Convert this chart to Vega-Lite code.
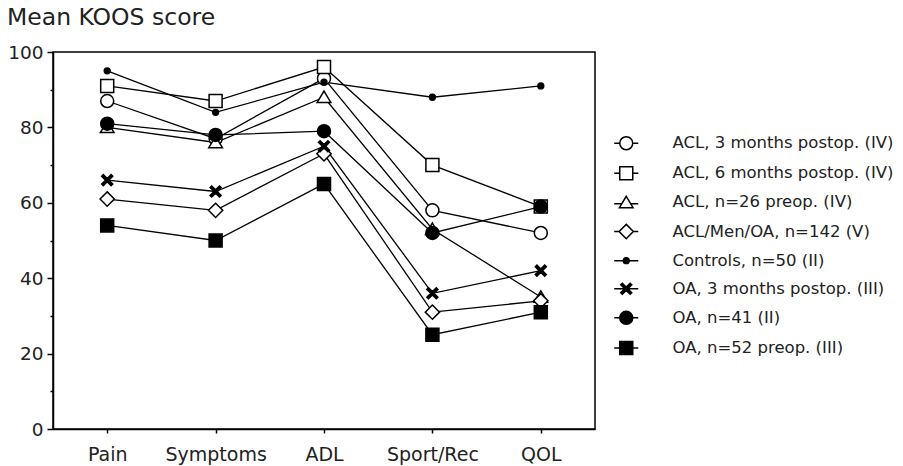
{
  "$schema": "https://vega.github.io/schema/vega-lite/v6.json",
  "width": 542,
  "height": 377,
  "autosize": "none",
  "padding": {"left": 53, "top": 52, "right": 308, "bottom": 37},
  "background": "white",
  "title": {
    "text": "Mean KOOS score",
    "anchor": "start",
    "frame": "group",
    "orient": "top",
    "baseline": "alphabetic",
    "offset": -5,
    "dx": -46,
    "font": "DejaVu Sans",
    "fontSize": 23.5,
    "fontWeight": "normal",
    "color": "#222222"
  },
  "config": {
    "font": "DejaVu Sans",
    "view": {"stroke": "black", "strokeWidth": 1.5}
  },
  "data": {
    "values": [
      {"series": "ACL, 3 months postop. (IV)", "subscale": "Pain", "score": 87},
      {"series": "ACL, 3 months postop. (IV)", "subscale": "Symptoms", "score": 77},
      {"series": "ACL, 3 months postop. (IV)", "subscale": "ADL", "score": 93},
      {"series": "ACL, 3 months postop. (IV)", "subscale": "Sport/Rec", "score": 58},
      {"series": "ACL, 3 months postop. (IV)", "subscale": "QOL", "score": 52},
      {"series": "ACL, 6 months postop. (IV)", "subscale": "Pain", "score": 91},
      {"series": "ACL, 6 months postop. (IV)", "subscale": "Symptoms", "score": 87},
      {"series": "ACL, 6 months postop. (IV)", "subscale": "ADL", "score": 96},
      {"series": "ACL, 6 months postop. (IV)", "subscale": "Sport/Rec", "score": 70},
      {"series": "ACL, 6 months postop. (IV)", "subscale": "QOL", "score": 59},
      {"series": "ACL, n=26 preop. (IV)", "subscale": "Pain", "score": 80},
      {"series": "ACL, n=26 preop. (IV)", "subscale": "Symptoms", "score": 76},
      {"series": "ACL, n=26 preop. (IV)", "subscale": "ADL", "score": 88},
      {"series": "ACL, n=26 preop. (IV)", "subscale": "Sport/Rec", "score": 53},
      {"series": "ACL, n=26 preop. (IV)", "subscale": "QOL", "score": 35},
      {"series": "ACL/Men/OA, n=142 (V)", "subscale": "Pain", "score": 61},
      {"series": "ACL/Men/OA, n=142 (V)", "subscale": "Symptoms", "score": 58},
      {"series": "ACL/Men/OA, n=142 (V)", "subscale": "ADL", "score": 73},
      {"series": "ACL/Men/OA, n=142 (V)", "subscale": "Sport/Rec", "score": 31},
      {"series": "ACL/Men/OA, n=142 (V)", "subscale": "QOL", "score": 34},
      {"series": "Controls, n=50 (II)", "subscale": "Pain", "score": 95},
      {"series": "Controls, n=50 (II)", "subscale": "Symptoms", "score": 84},
      {"series": "Controls, n=50 (II)", "subscale": "ADL", "score": 92},
      {"series": "Controls, n=50 (II)", "subscale": "Sport/Rec", "score": 88},
      {"series": "Controls, n=50 (II)", "subscale": "QOL", "score": 91},
      {"series": "OA, 3 months postop. (III)", "subscale": "Pain", "score": 66},
      {"series": "OA, 3 months postop. (III)", "subscale": "Symptoms", "score": 63},
      {"series": "OA, 3 months postop. (III)", "subscale": "ADL", "score": 75},
      {"series": "OA, 3 months postop. (III)", "subscale": "Sport/Rec", "score": 36},
      {"series": "OA, 3 months postop. (III)", "subscale": "QOL", "score": 42},
      {"series": "OA, n=41 (II)", "subscale": "Pain", "score": 81},
      {"series": "OA, n=41 (II)", "subscale": "Symptoms", "score": 78},
      {"series": "OA, n=41 (II)", "subscale": "ADL", "score": 79},
      {"series": "OA, n=41 (II)", "subscale": "Sport/Rec", "score": 52},
      {"series": "OA, n=41 (II)", "subscale": "QOL", "score": 59},
      {"series": "OA, n=52 preop. (III)", "subscale": "Pain", "score": 54},
      {"series": "OA, n=52 preop. (III)", "subscale": "Symptoms", "score": 50},
      {"series": "OA, n=52 preop. (III)", "subscale": "ADL", "score": 65},
      {"series": "OA, n=52 preop. (III)", "subscale": "Sport/Rec", "score": 25},
      {"series": "OA, n=52 preop. (III)", "subscale": "QOL", "score": 31}
    ]
  },
  "encoding": {
    "x": {
      "field": "subscale",
      "type": "nominal",
      "sort": ["Pain", "Symptoms", "ADL", "Sport/Rec", "QOL"],
      "scale": {"type": "point", "padding": 0.5},
      "axis": {
        "title": null,
        "labelAngle": 0,
        "labelFontSize": 19,
        "labelColor": "#222222",
        "labelPadding": 12,
        "tickSize": 4,
        "tickColor": "black",
        "tickWidth": 1.5,
        "domainColor": "black",
        "domainWidth": 1.5,
        "grid": false
      }
    },
    "y": {
      "field": "score",
      "type": "quantitative",
      "scale": {"domain": [0, 100], "nice": false},
      "axis": {
        "title": null,
        "grid": false,
        "values": [0, 10, 20, 30, 40, 50, 60, 70, 80, 90, 100],
        "labelExpr": "datum.value % 20 === 0 ? datum.label : ''",
        "labelFontSize": 18.5,
        "labelColor": "#222222",
        "labelPadding": 4,
        "tickSize": {"condition": {"test": "datum.value % 20 !== 0", "value": 3}, "value": 6},
        "tickColor": "black",
        "tickWidth": 1.5,
        "domainColor": "black",
        "domainWidth": 1.5
      }
    }
  },
  "layer": [
    {
      "mark": {"type": "line", "color": "black", "strokeWidth": 1.3},
      "encoding": {"detail": {"field": "series", "type": "nominal"}}
    },
    {
      "mark": {"type": "point", "filled": true, "size": 169, "stroke": "black", "strokeWidth": 1.5, "opacity": 1},
      "encoding": {
        "shape": {
          "condition": [
            {"test": "datum.series === 'ACL, 3 months postop. (IV)'", "value": "M-1,0A1,1,0,1,0,1,0A1,1,0,1,0,-1,0Z"},
            {"test": "datum.series === 'ACL, 6 months postop. (IV)'", "value": "M-1,-1H1V1H-1Z"},
            {"test": "datum.series === 'ACL, n=26 preop. (IV)'", "value": "M0,-0.95L1.05,0.8H-1.05Z"},
            {"test": "datum.series === 'ACL/Men/OA, n=142 (V)'", "value": "M0,-1.1L1.1,0L0,1.1L-1.1,0Z"},
            {"test": "datum.series === 'Controls, n=50 (II)'", "value": "M-0.45,0A0.45,0.45,0,1,0,0.45,0A0.45,0.45,0,1,0,-0.45,0Z"},
            {"test": "datum.series === 'OA, 3 months postop. (III)'", "value": "M-0.85,-0.6L-0.6,-0.85L0,-0.25L0.6,-0.85L0.85,-0.6L0.25,0L0.85,0.6L0.6,0.85L0,0.25L-0.6,0.85L-0.85,0.6L-0.25,0Z"},
            {"test": "datum.series === 'OA, n=41 (II)'", "value": "M-1,0A1,1,0,1,0,1,0A1,1,0,1,0,-1,0Z"}
          ],
          "value": "M-1,-1H1V1H-1Z"
        },
        "fill": {
          "field": "series",
          "type": "nominal",
          "scale": {
            "domain": ["ACL, 3 months postop. (IV)", "ACL, 6 months postop. (IV)", "ACL, n=26 preop. (IV)", "ACL/Men/OA, n=142 (V)", "Controls, n=50 (II)", "OA, 3 months postop. (III)", "OA, n=41 (II)", "OA, n=52 preop. (III)"],
            "range": ["white", "white", "white", "white", "black", "black", "black", "black"]
          },
          "legend": {
            "title": null,
            "orient": "none",
            "legendX": 565,
            "legendY": 83,
            "padding": 0,
            "labelFontSize": 16.5,
            "labelColor": "#222222",
            "labelOffset": 38,
            "labelLimit": 400,
            "rowPadding": 10.1,
            "symbolSize": 169,
            "symbolStrokeWidth": 1.5,
            "symbolStrokeColor": "black",
            "encoding": {
              "symbols": {
                "stroke": {"value": "black"},
                "strokeWidth": {"value": 1.5},
                "opacity": {"value": 1},
                "size": {"value": 169},
                "shape": {"value": {"expr": "['M-1.85,0H-1 M1,0H1.85 M-1,0A1,1,0,1,0,1,0A1,1,0,1,0,-1,0Z', 'M-1.85,0H-1 M1,0H1.85 M-1,-1H1V1H-1Z', 'M-1.85,0.2H-0.69 M0.69,0.2H1.85 M0,-0.95L1.05,0.8H-1.05Z', 'M-1.85,0H-1.1 M1.1,0H1.85 M0,-1.1L1.1,0L0,1.1L-1.1,0Z', 'M-1.85,0H1.85 M-0.45,0A0.45,0.45,0,1,0,0.45,0A0.45,0.45,0,1,0,-0.45,0Z', 'M-1.85,0H1.85 M-0.85,-0.6L-0.6,-0.85L0,-0.25L0.6,-0.85L0.85,-0.6L0.25,0L0.85,0.6L0.6,0.85L0,0.25L-0.6,0.85L-0.85,0.6L-0.25,0Z', 'M-1.85,0H1.85 M-1,0A1,1,0,1,0,1,0A1,1,0,1,0,-1,0Z', 'M-1.85,0H1.85 M-1,-1H1V1H-1Z'][indexof(domain('fill'), datum.value)]"}}
              }
            }
          }
        }
      }
    }
  ]
}
